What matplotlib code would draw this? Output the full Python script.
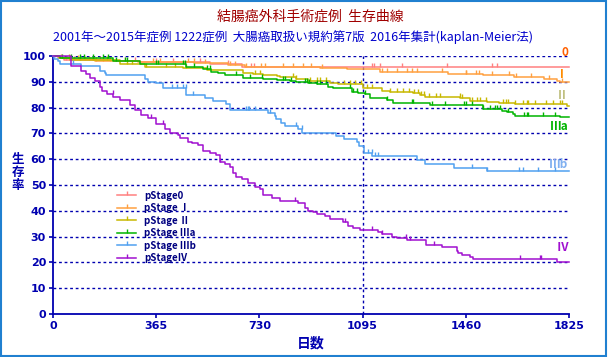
import numpy as np
import matplotlib
matplotlib.use("Agg")
import matplotlib.pyplot as plt
from matplotlib.lines import Line2D
from matplotlib.patches import Rectangle

plt.rcParams["font.family"] = ["Noto Sans CJK JP", "DejaVu Sans"]

# survival curves (day, survival %), step-post
stage0_days = [0, 19, 38, 218, 307, 555, 668, 1825]
stage0_surv = [100, 99.4, 98.4, 98.0, 97.5, 96.8, 95.6, 95.6]

stage1_days = [0, 20, 60, 150, 300, 500, 620, 680, 945, 1039, 1156, 1398, 1520, 1630, 1737, 1781, 1793, 1825]
stage1_surv = [100, 99.2, 98.8, 98.2, 97.8, 97.2, 96.5, 95.6, 95.2, 94.8, 93.9, 92.9, 92.5, 91.7, 91.0, 90.4, 89.8, 89.8]

stage2_days = [0, 20, 59, 236, 325, 461, 543, 673, 709, 743, 791, 802, 861, 903, 979, 1009, 1097, 1162,
               1191, 1275, 1298, 1316, 1439, 1475, 1535, 1576, 1634, 1817, 1825]
stage2_surv = [100, 99.4, 98.4, 96.8, 95.9, 95.2, 94.6, 93.3, 92.9, 92.6, 92.2, 91.7, 91.0, 90.4, 89.4, 89.0, 87.5, 86.5,
               85.9, 85.5, 84.9, 84.0, 83.6, 82.7, 82.1, 81.7, 81.4, 80.6, 80.6]

stage3a_days = [0, 25, 212, 307, 470, 531, 560, 585, 610, 673, 743, 791, 838, 861, 903, 932, 973, 991, 1056,
                1079, 1103, 1121, 1180, 1203, 1334, 1522, 1587, 1605, 1628, 1634, 1793, 1825]
stage3a_surv = [100, 99.4, 98.1, 96.8, 95.6, 95.0, 93.8, 93.3, 92.6, 91.4, 91.0, 90.7, 90.3, 90.0, 89.4, 89.0, 88.1, 87.5, 86.2,
                85.8, 85.2, 83.6, 82.9, 81.8, 80.9, 79.5, 78.7, 78.4, 77.5, 76.6, 76.2, 76.2]

stage3b_days = [0, 3, 18, 24, 100, 165, 183, 189, 324, 336, 366, 390, 472, 537, 566, 613, 625, 761, 784, 790,
                808, 820, 867, 880, 1001, 1029, 1076, 1082, 1100, 1129, 1286, 1314, 1417, 1536, 1825]
stage3b_surv = [100, 98.8, 98.1, 96.9, 96.1, 94.2, 93.3, 92.6, 91.0, 90.0, 89.4, 87.5, 84.9, 83.6, 82.6, 81.4, 79.1, 78.0, 76.7, 75.5,
                74.2, 73.0, 71.7, 70.0, 69.0, 67.7, 66.5, 65.1, 62.3, 61.2, 59.7, 58.1, 56.5, 55.4, 55.4]

stage4_days = [0, 65, 100, 115, 130, 148, 165, 172, 190, 212, 236, 271, 289, 313, 336, 366, 395, 413, 442, 448,
               478, 490, 513, 531, 555, 578, 590, 608, 625, 637, 649, 667, 690, 714, 731, 743, 773, 802, 867, 891,
               902, 920, 932, 962, 979, 1026, 1044, 1062, 1085, 1150, 1162, 1198, 1215, 1251, 1319, 1377, 1428,
               1433, 1445, 1475, 1484, 1782, 1825]
stage4_surv = [100, 96.1, 94.2, 92.9, 91.6, 90.3, 88.1, 86.6, 85.2, 84.2, 82.9, 81.0, 79.1, 77.1, 75.8, 73.5, 71.6, 70.0, 69.4, 68.1,
               66.5, 66.2, 65.5, 63.2, 62.3, 61.6, 59.0, 58.1, 57.1, 54.5, 53.0, 52.2, 50.7, 49.3, 48.3, 46.1, 44.8, 43.9, 42.9, 41.0,
               40.0, 39.4, 38.6, 38.0, 36.9, 35.5, 34.1, 33.2, 32.6, 31.7, 30.9, 30.0, 29.3, 28.7, 26.6, 25.9, 24.5,
               23.8, 22.7, 22.0, 21.2, 20.0, 20.0]

# censored cases (days)
cens0 = [45, 75, 112, 127, 165, 253, 289, 366, 425, 519, 619, 702, 711, 1127, 1135, 1156, 1233, 1392, 1554, 1571]
cens1 = [30, 90, 153, 177, 200, 354, 378, 478, 498, 537, 625, 643, 684, 737, 749, 814, 850, 885, 914, 950,
         1162, 1180, 1215, 1253, 1268, 1289, 1377, 1459, 1462, 1497, 1506, 1554, 1614, 1638, 1692, 1754, 1801]
cens2 = [55, 95, 140, 190, 260, 280, 330, 400, 430, 470, 714, 731, 849, 861, 908, 932, 944, 967, 1028, 1050,
         1068, 1089, 1109, 1127, 1191, 1215, 1239, 1260, 1276, 1292, 1300, 1312, 1331, 1355, 1369, 1438, 1446,
         1481, 1501, 1510, 1532, 1591, 1602, 1611, 1634, 1664, 1675, 1681, 1705, 1744, 1768, 1794, 1799]
cens3a = [32, 65, 94, 110, 142, 177, 195, 224, 255, 260, 366, 372, 460, 466, 500, 543, 555, 649, 696, 740,
          814, 820, 840, 891, 899, 906, 932, 944, 967, 1050, 1062, 1074, 1103, 1180, 1268, 1274, 1339, 1386,
          1452, 1462, 1481, 1522, 1546, 1563, 1569, 1581, 1611, 1666, 1675, 1681, 1734, 1776]
cens3b = [70, 420, 440, 460, 470, 495, 684, 690, 694, 714, 768, 861, 879, 1115, 1127, 1140, 1150, 1481,
          1536, 1649, 1663, 1716, 1776]
cens4 = [211, 346, 389, 590, 855, 1033, 1127, 1162, 1248, 1262, 1347, 1650, 1721, 1727]

labels = ["pStage0", "pStage Ⅰ", "pStage Ⅱ", "pStage Ⅲa", "pStage Ⅲb", "pStageⅣ"]
end_labels = ["0", "Ⅰ", "Ⅱ", "Ⅲa", "Ⅲb", "Ⅳ"]
end_label_y = [101.5, 93.0, 84.5, 72.5, 58.1, 25.6]
colors = ["#FF8080", "#FFA040", "#C8B800", "#00B400", "#50A0F0", "#A010D0"]
end_colors = ["#FF6000", "#FF8C00", "#C0C080", "#00B400", "#80B0F0", "#A010D0"]

curves = [
    (stage0_days, stage0_surv, cens0),
    (stage1_days, stage1_surv, cens1),
    (stage2_days, stage2_surv, cens2),
    (stage3a_days, stage3a_surv, cens3a),
    (stage3b_days, stage3b_surv, cens3b),
    (stage4_days, stage4_surv, cens4),
]

NAVY = "#0000B0"

fig = plt.figure(figsize=(6.08, 3.57), dpi=100)
ax = fig.add_axes([53 / 608, 1 - 314 / 357, 516 / 608, 258 / 357])

for i, (d, s, c) in enumerate(curves):
    d = np.array(d)
    s = np.array(s)
    ax.plot(d, s, drawstyle="steps-post", color=colors[i], lw=1.1, clip_on=False, zorder=3)
    c = np.array(c)
    idx = np.searchsorted(d, c, side="right") - 1
    # censor marks: tick pointing up from the curve
    ax.plot(c, s[idx], ls="none", marker=2, markersize=3, mew=1.0, color=colors[i],
            clip_on=False, zorder=3)

for i, lab in enumerate(end_labels):
    ax.text(1822, end_label_y[i], lab, color=end_colors[i], fontsize=8.5, fontweight="bold",
            ha="right", va="center")

ax.set_xlim(0, 1825)
ax.set_ylim(0, 100)
ax.set_xticks([0, 365, 730, 1095, 1460, 1825])
ax.set_yticks(range(0, 101, 10))
for y in range(10, 101, 10):
    ax.axhline(y, color=NAVY, lw=1.0, ls=(0, (2, 2)), zorder=1)
ax.axvline(1095, color=NAVY, lw=1.0, ls=(0, (2, 2)), zorder=1)

for sp in ["top", "right"]:
    ax.spines[sp].set_visible(False)
for sp in ["left", "bottom"]:
    ax.spines[sp].set_color(NAVY)
    ax.spines[sp].set_linewidth(1.3)
ax.tick_params(colors=NAVY, length=3, width=1.2, labelsize=8, pad=2)
for t in ax.get_xticklabels() + ax.get_yticklabels():
    t.set_fontweight("bold")
    t.set_family("DejaVu Sans")

ax.set_xlabel("日数", color=NAVY, fontsize=10, fontweight="bold", labelpad=4)
fig.text(18 / 608, 1 - 172 / 357, "生\n存\n率", color=NAVY, fontsize=9, fontweight="bold",
         ha="center", va="center", linespacing=1.0)

fig.text(310 / 608, 1 - 17 / 357, "結腸癌外科手術症例  生存曲線", color="#A00000", fontsize=10,
         ha="center", va="center")
fig.text(293 / 608, 1 - 37 / 357,
         "2001年～2015年症例 1222症例  大腸癌取扱い規約第7版  2016年集計(kaplan-Meier法)",
         color="#0000CC", fontsize=9, ha="center", va="center")

handles = [Line2D([], [], color=c, lw=1.1, marker=2, markersize=3, mew=1.0) for c in colors]
leg = ax.legend(handles, labels, loc="upper left", bbox_to_anchor=(112 / 608, 1 - 186 / 357),
                bbox_transform=fig.transFigure, frameon=False, fontsize=7, handlelength=2.0,
                labelspacing=0.25, numpoints=1, handletextpad=0.8, borderpad=0)
for t in leg.get_texts():
    t.set_color("#000080")
    t.set_fontweight("bold")

fig.patches.append(Rectangle((0.001, 0.002), 0.996, 0.996, transform=fig.transFigure,
                             fill=False, edgecolor="#2080D0", lw=1.5))

fig.savefig("out.png", dpi=100)
